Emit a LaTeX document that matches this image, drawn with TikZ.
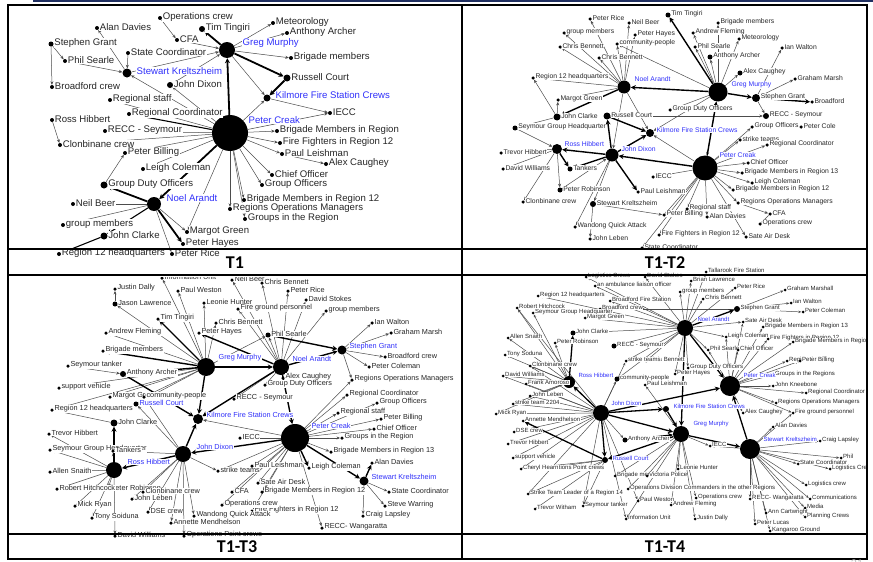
\documentclass[tikz,border=0pt]{standalone}
\usepackage{fontspec}
\newfontfamily\netfont{Liberation Sans}
\newfontfamily\capfont{Carlito}
\usetikzlibrary{arrows.meta, positioning}
\definecolor{hubblue}{RGB}{48,48,250}
\definecolor{slidenavy}{RGB}{31,46,96}
\pgfdeclarelayer{edges}
\pgfsetlayers{edges,main}

% leaf actor: dot with its name to the right
\newcommand\leaf[4][]{\node[dot,#1,label={[lab,yshift=1.2pt]right:#4}] (#2) at (#3) {};}

\begin{document}
\begin{tikzpicture}[x=1pt, y=-1pt,
    dot/.style = {circle, fill=black, inner sep=0pt, minimum size=4pt, label distance=2.5pt},
    hub/.style = {circle, fill=black, inner sep=0pt},
    tie/.style = {draw=black!70, line width=0.5pt, -{Stealth[length=3.5pt, width=3pt]}},
    strong/.style = {draw=black, line width=1.8pt, -{Stealth[length=5pt, width=5pt]}},
    hublab/.style = {lab, text=hubblue, anchor=west},
    captext/.style = {font=\capfont\bfseries\fontsize{18}{18}\selectfont},
    rule/.style = {line width=2.4pt}
  ]
\useasboundingbox (0,0) rectangle (873,562);
\fill[slidenavy] (33,0) rectangle (873,2);

% ---------------- T1
\begin{scope}[lab/.style={fill=white, inner sep=0.5pt, text=black!85, font=\netfont\fontsize{9.6}{10}\selectfont}]
  \clip (9,7) rectangle (460,258);
  \node[hub, minimum size=36pt] (aPC) at (230,133) {};
  \node[hub, minimum size=16pt] (aGM) at (227,50) {};
  \node[hub, minimum size=14pt] (aNA) at (154,204) {};
  \node[hub, minimum size=9pt]  (aSK) at (127,73) {};
  \node[hub, minimum size=7pt]  (aKF) at (267,98) {};
  \leaf{aOC}{160,18}{Operations crew}
  \leaf{aAD}{97,28}{Alan Davies}
  \leaf{aCFA}{177,40}{CFA}
  \leaf[minimum size=6pt]{aTT}{202,29}{Tim Tingiri}
  \leaf[minimum size=5pt]{aSG}{51,44}{Stephen Grant}
  \leaf{aPS}{65,61}{Phil Searle}
  \leaf{aSC}{128,53}{State Coordinator}
  \leaf{aBC}{52,87}{Broadford crew}
  \leaf[minimum size=6pt]{aJD}{170,85}{John Dixon}
  \leaf{aRS}{110,100}{Regional staff}
  \leaf{aRCo}{129,114}{Regional Coordinator}
  \leaf{aRH}{52,120}{Ross Hibbert}
  \leaf{aRE}{105,131}{RECC - Seymour}
  \leaf{aCC}{60,145}{Clonbinane crew}
  \leaf{aPB}{125,153}{Peter Billing}
  \leaf{aLC}{143,169}{Leigh Coleman}
  \leaf[minimum size=7pt]{aGD}{104,185}{Group Duty Officers}
  \leaf{aNB}{73,204}{Neil Beer}
  \leaf{aGMm}{63,225}{group members}
  \leaf[minimum size=7pt]{aJC}{104,236}{John Clarke}
  \leaf{aMG}{187,232}{Margot Green}
  \leaf{aPH}{183,244}{Peter Hayes}
  \leaf{aR12}{59,254}{Region 12 headquarters}
  \leaf{aPR}{172,254}{Peter Rice}
  \leaf{aMe}{273,23}{Meteorology}
  \leaf{aAA}{287,33}{Anthony Archer}
  \leaf{aBM}{291,58}{Brigade members}
  \leaf[minimum size=7pt]{aRC}{287,78}{Russell Court}
  \leaf{aIE}{330,113}{IECC}
  \leaf{aBR}{277,131}{Brigade Members in Region}
  \leaf{aFF}{280,143}{Fire Fighters in Region 12}
  \leaf{aPL}{282,154}{Paul Leishman}
  \leaf{aAC}{326,164}{Alex Caughey}
  \leaf{aCO}{272,175}{Chief Officer}
  \leaf{aGO}{262,185}{Group Officers}
  \leaf{aBM12}{244,200}{Brigade Members in Region 12}
  \leaf{aROM}{230,209}{Regions Operations Managers}
  \leaf{aGR}{245,219}{Groups in the Region}
  \node[hublab] (aGMt) at (242,43) {Greg Murphy};
  \node[hublab] (aSKt) at (136,71) {Stewart Kreltszheim};
  \node[hublab] (aKFt) at (275,95) {Kilmore Fire Station Crews};
  \node[hublab] (aPCt) at (248,120) {Peter Creak};
  \node[hublab] (aNAt) at (166,198) {Noel Arandt};
  \begin{pgfonlayer}{edges}
    \foreach \s/\t in {aOC/aCFA, aSK/aAD, aSG/aBC, aSG/aPS, aPS/aSK, aSC/aSK, aSK/aGM,
        aJD/aGM, aCFA/aGM, aGM/aMe, aGM/aAA, aGM/aBM, aGM/aKF, aKF/aIE, aPC/aIE, aPC/aKF,
        aPC/aSK, aPC/aJD, aPC/aRS, aPC/aRE, aPC/aCC, aPC/aPB, aPC/aLC, aGD/aPB, aPC/aBR,
        aPC/aFF, aPC/aPL, aPL/aAC, aPC/aCO, aPC/aGO, aPC/aBM12, aPC/aROM, aPC/aGR,
        aRH/aCC, aNA/aNB, aNA/aGMm, aNA/aMG, aNA/aPR, aPC/aMG}
      \draw[tie] (\s) -- (\t);
    \foreach \s/\t in {aGM/aTT, aPC/aGM, aGM/aRC, aRC/aKF, aPC/aNA, aNA/aGD, aNA/aPH}
      \draw[strong] (\s) -- (\t);
    \foreach \s/\t in {aNA/aJC, aJC/aR12, aPC/aRCo}
      \draw[strong, line width=1.1pt] (\s) -- (\t);
  \end{pgfonlayer}
\end{scope}

% ---------------- T1-T2
\begin{scope}[lab/.style={fill=white, inner sep=0.4pt, text=black!85, font=\netfont\fontsize{6.8}{7}\selectfont},
    dot/.append style={minimum size=3.5pt}]
  \clip (464,7) rectangle (866,250);
  \node[hub, minimum size=25pt] (bPC) at (705,168) {};
  \node[hub, minimum size=19pt] (bGM) at (718,92) {};
  \node[hub, minimum size=13pt] (bNA) at (624,87) {};
  \node[hub, minimum size=13pt] (bJD) at (612,155) {};
  \node[hub, minimum size=10pt] (bRH) at (557,149) {};
  \node[hub, minimum size=8pt]  (bKF) at (650,133) {};
  \leaf{bPRi}{590,19}{Peter Rice}
  \leaf{bNB}{629,23}{Neil Beer}
  \leaf{bGMm}{564,33}{group members}
  \leaf{bPH}{635,35}{Peter Hayes}
  \leaf{bCB1}{560,47}{Chris Bennett}
  \leaf{bCP}{617,44}{community-people}
  \leaf{bCB2}{599,58}{Chris Bennett}
  \leaf{bR12}{533,78}{Region 12 headquarters}
  \leaf{bMG}{558,100}{Margot Green}
  \leaf[minimum size=7pt]{bJC}{557,117}{John Clarke}
  \leaf[minimum size=7pt]{bRC}{607,116}{Russell Court}
  \leaf[minimum size=5pt]{bSGH}{515,128}{Seymour Group Headquarter}
  \leaf[minimum size=5pt]{bTT}{668,15}{Tim Tingiri}
  \leaf{bBM}{718,23}{Brigade members}
  \leaf{bAF}{693,33}{Andrew Fleming}
  \leaf{bMe}{739,39}{Meteorology}
  \leaf{bPS}{695,47}{Phil Searle}
  \leaf[minimum size=5pt]{bAA}{710,57}{Anthony Archer}
  \leaf{bIW}{782,48}{Ian Walton}
  \leaf[minimum size=5pt]{bAC}{740,73}{Alex Caughey}
  \leaf{bGMa}{795,79}{Graham Marsh}
  \leaf[minimum size=8pt]{bSG}{756,98}{Stephen Grant}
  \leaf{bBr}{812,102}{Broadford}
  \leaf{bGDO}{670,110}{Group Duty Officers}
  \leaf[minimum size=6pt]{bRE}{766,116}{RECC - Seymour}
  \leaf{bGO}{752,127}{Group Officers}
  \leaf{bPCo}{801,127}{Peter Cole}
  \leaf{bST}{740,140}{strike teams}
  \leaf{bRCo}{767,145}{Regional Coordinator}
  \leaf{bCO}{748,163}{Chief Officer}
  \leaf{bBM13}{742,173}{Brigade Members in Region 13}
  \leaf{bLC}{752,183}{Leigh Coleman}
  \leaf{bBM12}{733,190}{Brigade Members in Region 12}
  \leaf{bROM}{738,203}{Regions Operations Managers}
  \leaf{bCFA}{770,214}{CFA}
  \leaf{bOC}{760,224}{Operations crew}
  \leaf{bSAD}{746,237}{Sate Air Desk}
  \leaf{bRS}{687,209}{Regional staff}
  \leaf{bAD}{707,217}{Alan Davies}
  \leaf{bPB}{664,215}{Peter Billing}
  \leaf{bFF}{659,235}{Fire Fighters in Region 12}
  \leaf{bSC}{642,248}{State Coordinator}
  \leaf{bIE}{653,177}{IECC}
  \leaf{bPL}{638,192}{Paul Leishman}
  \leaf{bTH}{501,153}{Trevor Hibbert}
  \leaf{bDW}{503,169}{David Williams}
  \leaf[minimum size=5pt]{bTa}{570,169}{Tankers}
  \leaf[minimum size=5pt]{bPR}{560,190}{Peter Robinson}
  \leaf{bCC}{523,202}{Clonbinane crew}
  \leaf[minimum size=6pt]{bSK}{593,204}{Stewart Kreltszheim}
  \leaf{bWQ}{575,227}{Wandong Quick Attack}
  \leaf{bJL}{590,239}{John Leben}
  \node[hublab] (bNAt) at (634,79) {Noel Arandt};
  \node[hublab] (bGMt) at (731,85) {Greg Murphy};
  \node[hublab] (bKFt) at (656,130) {Kilmore Fire Station Crews};
  \node[hublab] (bPCt) at (719,155) {Peter Creak};
  \node[hublab] (bRHt) at (564,144) {Ross Hibbert};
  \node[hublab] (bJDt) at (621,149) {John Dixon};
  \begin{pgfonlayer}{edges}
    \foreach \s/\t in {bNA/bPRi, bNA/bNB, bNA/bGMm, bNA/bCB1, bNA/bCB2, bNA/bCP, bNA/bPH,
        bNA/bR12, bNA/bMG, bNA/bKF, bJC/bMG, bJC/bSGH, bJC/bR12, bGM/bAF, bGM/bPS, bGM/bAA,
        bGM/bMe, bGM/bBM, bGM/bAC, bGM/bCP, bGM/bGDO, bGM/bKF, bSG/bIW, bSG/bGMa, bSG/bRE,
        bRC/bRE, bPC/bGO, bGO/bPCo, bPC/bST, bPC/bRCo, bPC/bCO, bPC/bBM13, bPC/bLC,
        bPC/bBM12, bPC/bROM, bROM/bCFA, bCFA/bOC, bPC/bSAD, bPC/bAD, bPC/bRS, bPC/bPB,
        bPC/bFF, bPC/bSC, bPC/bIE, bPC/bKF, bRH/bTH, bRH/bDW, bRH/bPR, bRH/bCC, bSGH/bRH,
        bJD/bSK, bJD/bWQ, bSK/bJL, bSK/bPB, bPR/bJD, bNA/bJD, bGM/bPC}
      \draw[tie] (\s) -- (\t);
    \foreach \s/\t in {bGM/bTT, bPC/bGM, bGM/bNA, bGM/bSG, bSG/bBr, bPC/bJD, bJD/bPL,
        bJD/bKF, bRH/bTa, bJD/bRH, bJD/bRC, bRC/bKF, bJD/bTa, bNA/bJC}
      \draw[strong, line width=1.4pt] (\s) -- (\t);
  \end{pgfonlayer}
\end{scope}

% ---------------- T1-T3
\begin{scope}[lab/.style={fill=white, inner sep=0.4pt, text=black!85, font=\netfont\fontsize{7.3}{7.5}\selectfont},
    dot/.append style={minimum size=3.5pt}]
  \clip (9,277) rectangle (460,541);
  \node[hub, minimum size=28pt] (cPC) at (295,438) {};
  \node[hub, minimum size=18pt] (cGM) at (206,367) {};
  \node[hub, minimum size=16pt] (cNA) at (281,367) {};
  \node[hub, minimum size=16pt] (cJD) at (183,454) {};
  \node[hub, minimum size=16pt] (cRH) at (114,470) {};
  \node[hub, minimum size=10pt] (cKF) at (198,419) {};
  \node[hub, minimum size=9pt]  (cSG) at (342,350) {};
  \node[hub, minimum size=9pt]  (cSK) at (364,481) {};
  \node[hub, minimum size=5pt]  (cRC) at (136,404) {};
  \leaf{cIU}{162,278}{Information Unit}
  \leaf{cJuD}{115,289}{Justin Dally}
  \leaf[minimum size=5pt]{cJL}{115,304}{Jason Lawrence}
  \leaf{cPW}{178,291}{Paul Weston}
  \leaf{cLH}{204,303}{Leonie Hunter}
  \leaf{cTT}{158,319}{Tim Tingiri}
  \leaf{cCB1}{216,323}{Chris Bennett}
  \leaf{cAF}{106,333}{Andrew Fleming}
  \leaf{cPH}{199,333}{Peter Hayes}
  \leaf{cBM}{103,351}{Brigade members}
  \leaf{cST}{68,366}{Seymour tanker}
  \leaf[minimum size=6pt]{cAA}{123,374}{Anthony Archer}
  \leaf{cSV}{59,388}{support vehicle}
  \leaf{cMG}{110,397}{Margot Green}
  \leaf{cCP}{144,397}{community-people}
  \leaf{cR12}{52,410}{Region 12 headquarters}
  \leaf{cNB}{232,280}{Neil Beer}
  \leaf{cCB2}{262,283}{Chris Bennett}
  \leaf{cPR}{288,291}{Peter Rice}
  \leaf{cDS}{306,300}{David Stokes}
  \leaf{cFG}{238,309}{Fire ground personnel}
  \leaf{cGMm}{326,311}{group members}
  \leaf{cIW}{372,323}{Ian Walton}
  \leaf{cGMa}{391,333}{Graham Marsh}
  \leaf[minimum size=5pt]{cPS}{268,335}{Phil Searle}
  \leaf{cBC}{385,357}{Broadford crew}
  \leaf{cPCo}{369,367}{Peter Coleman}
  \leaf{cAC}{283,378}{Alex Caughey}
  \leaf{cGDO}{265,385}{Group Duty Officers}
  \leaf{cROM}{352,380}{Regions Operations Managers}
  \leaf{cRCo}{347,395}{Regional Coordinator}
  \leaf{cRE}{234,399}{RECC - Seymour}
  \leaf{cGO}{377,403}{Group Officers}
  \leaf{cRS}{338,413}{Regional staff}
  \leaf{cPB}{381,419}{Peter Billing}
  \leaf{cCO}{374,429}{Chief Officer}
  \leaf{cGR}{342,438}{Groups in the Region}
  \leaf{cBM13}{331,452}{Brigade Members in Region 13}
  \leaf{cAD}{372,463}{Alan Davies}
  \leaf{cSTe}{218,471}{strike teams}
  \leaf{cPL}{252,466}{Paul Leishman}
  \leaf{cLC}{309,468}{Leigh Coleman}
  \leaf{cSC}{389,492}{State Coordinator}
  \leaf{cSW}{385,506}{Steve Warring}
  \leaf{cCL}{363,516}{Craig Lapsley}
  \leaf{cRW}{322,528}{RECC- Wangaratta}
  \leaf{cSAD}{258,483}{Sate Air Desk}
  \leaf{cBM12}{262,492}{Brigade Members in Region 12}
  \leaf{cFF}{252,511}{Fire Fighters in Region 12}
  \leaf{cCFA}{232,492}{CFA}
  \leaf{cOC}{222,505}{Operations crew}
  \leaf{cWQ}{194,516}{Wandong Quick Attack}
  \leaf{cIE}{240,438}{IECC}
  \leaf{cOP}{184,536}{Operations Point crews}
  \leaf{cDW}{115,536}{David Williams}
  \leaf{cTH}{49,434}{Trevor Hibbert}
  \leaf{cSGH}{50,450}{Seymour Group Headquarter}
  \leaf{cTa}{113,451}{Tankers}
  \leaf{cAS}{50,472}{Allen Snaith}
  \leaf{cPRo}{108,489}{Peter Robinson}
  \leaf{cRHi}{57,489}{Robert Hitchcock}
  \leaf{cCC}{143,492}{Clonbinane crew}
  \leaf{cJLe}{132,499}{John Leben}
  \leaf{cMR}{75,506}{Mick Ryan}
  \leaf{cTS}{92,518}{Tony Soiduna}
  \leaf{cDSE}{148,512}{DSE crew}
  \leaf{cAM}{171,523}{Annette Mendhelson}
  \leaf[minimum size=7pt]{cJC}{114,423}{John Clarke}
  \node[hublab] (cGMt) at (218,358) {Greg Murphy};
  \node[hublab] (cNAt) at (292,359) {Noel Arandt};
  \node[hublab] (cSGt) at (349,347) {Stephen Grant};
  \node[hublab] (cKFt) at (206,415) {Kilmore Fire Station Crews};
  \node[hublab] (cRCt) at (139,403) {Russell Court};
  \node[hublab] (cPCt) at (311,426) {Peter Creak};
  \node[hublab] (cJDt) at (196,447) {John Dixon};
  \node[hublab] (cRHt) at (127,462) {Ross Hibbert};
  \node[hublab] (cSKt) at (371,477) {Stewart Kreltszheim};
  \begin{pgfonlayer}{edges}
    \foreach \s/\t in {cGM/cIU, cGM/cPW, cGM/cLH, cJL/cJuD, cGM/cJL, cGM/cCB1, cGM/cAF,
        cGM/cMG, cGM/cCP, cGM/cRC, cGM/cSV, cGM/cR12, cNA/cNB, cNA/cCB2, cNA/cPR, cNA/cFG,
        cNA/cDS, cNA/cGMm, cNA/cAC, cNA/cGDO, cNA/cRE, cNA/cPS, cSG/cIW, cSG/cGMa, cSG/cBC,
        cSG/cPCo, cPC/cROM, cPC/cRCo, cPC/cGO, cPC/cRS, cPC/cPB, cPC/cCO, cPC/cGR,
        cPC/cBM13, cPC/cSAD, cPC/cBM12, cPC/cFF, cPC/cCFA, cPC/cOC, cPC/cPL, cPC/cIE,
        cPC/cKF, cPC/cSTe, cSK/cSC, cSK/cSW, cSK/cCL, cPC/cRW, cJD/cCP, cJD/cTa, cJD/cCC,
        cJD/cJLe, cJD/cDSE, cJD/cAM, cJD/cOP, cJD/cWQ, cJD/cSTe, cJD/cRC, cRH/cTH,
        cRH/cSGH, cRH/cAS, cRH/cRHi, cRH/cPRo, cRH/cMR, cRH/cTS, cRH/cDW, cRH/cTa,
        cJC/cR12, cST/cAA, cSG/cROM, cGM/cPS}
      \draw[tie] (\s) -- (\t);
    \foreach \s/\t in {cGM/cTT, cGM/cBM, cNA/cPH, cGM/cAA, cAA/cKF, cGM/cKF, cNA/cKF,
        cPS/cSG, cNA/cSG, cPC/cJD, cJD/cKF, cJD/cRH, cRH/cJC, cPC/cSK, cSK/cAD,
        cNA/cPC, cGM/cNA, cPC/cLC}
      \draw[strong, line width=1.4pt] (\s) -- (\t);
  \end{pgfonlayer}
\end{scope}

% ---------------- T1-T4
\begin{scope}[lab/.style={fill=white, inner sep=0.3pt, text=black!85, font=\netfont\fontsize{6}{6.2}\selectfont},
    dot/.append style={minimum size=3pt, label distance=2pt},
    tie/.append style={-{Stealth[length=3pt, width=2.5pt]}}]
  \clip (464,266) rectangle (866,541);
  \node[hub, minimum size=16pt] (dNA) at (685,328) {};
  \node[hub, minimum size=20pt] (dPC) at (730,386) {};
  \node[hub, minimum size=12pt] (dRH) at (569,382) {};
  \node[hub, minimum size=16pt] (dJD) at (601,413) {};
  \node[hub, minimum size=6pt]  (dKF) at (666,409) {};
  \node[hub, minimum size=16pt] (dGM) at (681,434) {};
  \node[hub, minimum size=20pt] (dSK) at (750,449) {};
  \node[hub, minimum size=6pt]  (dRC) at (605,460) {};
  \leaf{dTal}{706,272}{Tallarook Fire Station}
  \leaf{dLog}{586,277}{Logistics Crews}
  \leaf{dDS}{645,277}{David Stokes}
  \leaf{dBL}{691,281}{Brian Lawrence}
  \leaf{dAL}{595,286}{an ambulance liaison officer}
  \leaf{dGMm}{680,292}{group members}
  \leaf{dPRi}{735,288}{Peter Rice}
  \leaf{dGMa}{785,290}{Graham Marshall}
  \leaf{dCB}{703,299}{Chris Bennett}
  \leaf{dIW}{791,303}{Ian Walton}
  \leaf{dR12}{538,296}{Region 12 headquarters}
  \leaf{dBFS}{610,301}{Broadford Fire Station}
  \leaf{dBC}{600,309}{Broadford crew}
  \leaf{dSGH}{533,313}{Seymour Group Headquarter}
  \leaf{dRHi}{517,308}{Robert Hitchcock}
  \leaf{dPCo}{803,312}{Peter Coleman}
  \leaf[minimum size=6pt]{dSG}{737,309}{Stephen Grant}
  \leaf{dMG}{585,318}{Margot Green}
  \leaf{dSAD}{743,322}{Sate Air Desk}
  \leaf{dBM13}{763,327}{Brigade Members in Region 13}
  \leaf[minimum size=5pt]{dJC}{573,333}{John Clarke}
  \leaf{dLC}{726,337}{Leigh Coleman}
  \leaf{dFF}{768,339}{Fire Fighters in Region 12}
  \leaf{dBMR}{793,342}{Brigade Members in Region 12}
  \leaf{dAS}{508,338}{Allen Snaith}
  \leaf{dPRo}{555,343}{Peter Robinson}
  \leaf[minimum size=5pt]{dRE}{614,346}{RECC - Seymour}
  \leaf{dPS}{708,350}{Phil Searle}
  \leaf{dCO}{738,350}{Chief Officer}
  \leaf{dTS}{505,355}{Tony Soduna}
  \leaf{dRS}{787,361}{Regional staff}
  \leaf{dPB}{800,361}{Peter Billing}
  \leaf{dCB2}{646,361}{Chris Bennett}
  \leaf{dSTe}{626,361}{strike teams}
  \leaf{dCC}{530,366}{Clonbinane crew}
  \leaf{dGDO}{688,368}{Group Duty Officers}
  \leaf{dDW}{503,376}{David Williams}
  \leaf{dPH}{675,374}{Peter Hayes}
  \leaf{dGR}{773,375}{Groups in the Regions}
  \leaf[minimum size=5pt]{dCP}{617,379}{community-people}
  \leaf{dFA}{526,384}{Frank Amoroso}
  \leaf{dPL}{645,385}{Paul Leishman}
  \leaf{dJK}{773,386}{John Kneebone}
  \leaf{dRC2}{806,393}{Regional Coordinator}
  \leaf{dJL}{530,396}{John Leben}
  \leaf{dROM}{776,403}{Regions Operations Managers}
  \leaf{dST2}{513,404}{strike team 2204}
  \leaf{dAC}{743,413}{Alex Caughey}
  \leaf{dFG}{793,413}{Fire ground personnel}
  \leaf{dMR}{496,414}{Mick Ryan}
  \leaf{dAM}{523,421}{Annette Mendhelson}
  \leaf{dAD}{773,427}{Alan Davies}
  \leaf{dDSE}{514,432}{DSE crew}
  \leaf[minimum size=5pt]{dAA}{625,440}{Anthony Archer}
  \leaf{dCr}{820,441}{Craig Lapsley}
  \leaf{dTH}{508,444}{Trevor Hibbert}
  \leaf{dIE}{710,446}{IECC}
  \leaf{dSV}{513,458}{support vehicle}
  \leaf{dPh}{841,458}{Phil}
  \leaf{dSC}{798,464}{State Coordinator}
  \leaf{dLcrw}{830,469}{Logistics Crews}
  \leaf{dOP}{540,469}{Operations Point crews}
  \leaf{dCH}{521,469}{Cheryl Hearn}
  \leaf{dLH}{678,469}{Leonie Hunter}
  \leaf{dBMe}{615,476}{Brigade members}
  \leaf{dVP}{647,476}{Victoria Police}
  \leaf{dLcr}{806,485}{Logistics crew}
  \leaf{dODC}{628,489}{Operations Division Commanders in the other Regions}
  \leaf{dSTL}{528,494}{Strike Team Leader of a Region 14}
  \leaf{dOC}{696,498}{Operations crew}
  \leaf{dRW}{750,499}{RECC- Wangaratta}
  \leaf{dCom}{810,499}{Communications}
  \leaf{dPW}{638,501}{Paul Weston}
  \leaf{dAF}{671,505}{Andrew Fleming}
  \leaf{dSTa}{583,506}{Seymour tanker}
  \leaf{dMed}{805,508}{Media}
  \leaf{dTW}{535,509}{Trevor Witham}
  \leaf{dACw}{766,513}{Ann Cartwright}
  \leaf{dPC2}{805,517}{Planning Crews}
  \leaf{dIU}{626,519}{Information Unit}
  \leaf{dJDa}{695,519}{Justin Dally}
  \leaf{dPLu}{755,524}{Peter Lucas}
  \leaf{dKG}{770,531}{Kangaroo Ground}
  \node[hublab] (dNAt) at (697,319) {Noel Arandt};
  \node[hublab] (dPCt) at (743,375) {Peter Creak};
  \node[hublab] (dRHt) at (578,375) {Ross Hibbert};
  \node[hublab] (dJDt) at (611,403) {John Dixon};
  \node[hublab] (dKFt) at (673,406) {Kilmore Fire Station Crews};
  \node[hublab] (dGMt) at (693,424) {Greg Murphy};
  \node[hublab] (dSKt) at (763,439) {Stewart Kreltszheim};
  \node[hublab] (dRCt) at (612,458) {Russell Court};
  \begin{pgfonlayer}{edges}
    \foreach \s/\t in {dNA/dDS, dNA/dBL, dNA/dGMm, dNA/dPRi, dNA/dCB, dNA/dBFS, dNA/dAL,
        dNA/dLog, dNA/dR12, dNA/dMG, dNA/dJC, dNA/dRE, dNA/dPS, dNA/dGDO, dNA/dPH,
        dNA/dLC, dNA/dSTe, dNA/dCB2, dNA/dCP, dNA/dTal, dNA/dSAD, dSG/dGMa, dSG/dIW,
        dSG/dPCo, dSG/dBC, dPC/dBM13, dPC/dFF, dPC/dBMR, dPC/dCO, dPC/dRS, dPC/dPB,
        dPC/dGR, dPC/dJK, dPC/dRC2, dPC/dROM, dPC/dFG, dPC/dAC, dPC/dSAD, dPC/dLC,
        dPC/dPS, dSK/dAD, dSK/dCr, dSK/dPh, dSK/dSC, dSK/dLcrw, dSK/dLcr, dSK/dCom,
        dSK/dRW, dSK/dMed, dSK/dACw, dSK/dPC2, dSK/dPLu, dSK/dKG, dSK/dIE, dSK/dFG,
        dGM/dLH, dGM/dODC, dGM/dAF, dGM/dJDa, dGM/dVP, dGM/dOC, dGM/dIE, dGM/dPL,
        dGM/dBMe, dGM/dIU, dJD/dSTe, dJD/dCP, dJD/dAA, dJD/dPW, dJD/dIU, dJD/dSTa,
        dJD/dSTL, dJD/dTH, dJD/dSV, dJD/dDSE, dJD/dMR, dJD/dST2, dJD/dJL, dJD/dFA,
        dJD/dDW, dJD/dCC, dJD/dRHi, dJD/dCH, dRH/dRHi, dRH/dSGH, dRH/dAS, dRH/dTS,
        dRH/dPRo, dRH/dCC, dRH/dDW, dRH/dFA, dRH/dJL, dRH/dST2, dRH/dMR, dRC/dCH,
        dRC/dOP, dRC/dTW, dRC/dSTL, dRC/dSTa}
      \draw[tie] (\s) -- (\t);
    \foreach \s/\t in {dNA/dGM, dNA/dPC, dJD/dKF, dJD/dPC, dKF/dGM, dGM/dSK, dJD/dGM,
        dJD/dRH, dRC/dAM, dGM/dRC, dAA/dGM, dNA/dSG, dSK/dPC, dJD/dRC, dRH/dJC}
      \draw[strong, line width=1.3pt] (\s) -- (\t);
  \end{pgfonlayer}
\end{scope}

% ---------------- table and captions
\draw[rule] (8,5) rectangle (867,559);
\draw[rule] (462,5) -- (462,559);
\draw[rule] (8,249) -- (867,249);
\draw[rule] (8,275) -- (867,275);
\draw[rule] (8,534) -- (867,534);
\node[captext] (capA) at (235,263) {T1};
\node[captext] (capB) at (665,263) {T1-T2};
\node[captext] (capC) at (237,547) {T1-T3};
\node[captext] (capD) at (665,547) {T1-T4};
\node[text=black!25, font=\netfont\fontsize{11}{11}\selectfont] (pgno) at (857,564) {21};
\end{tikzpicture}
\end{document}
